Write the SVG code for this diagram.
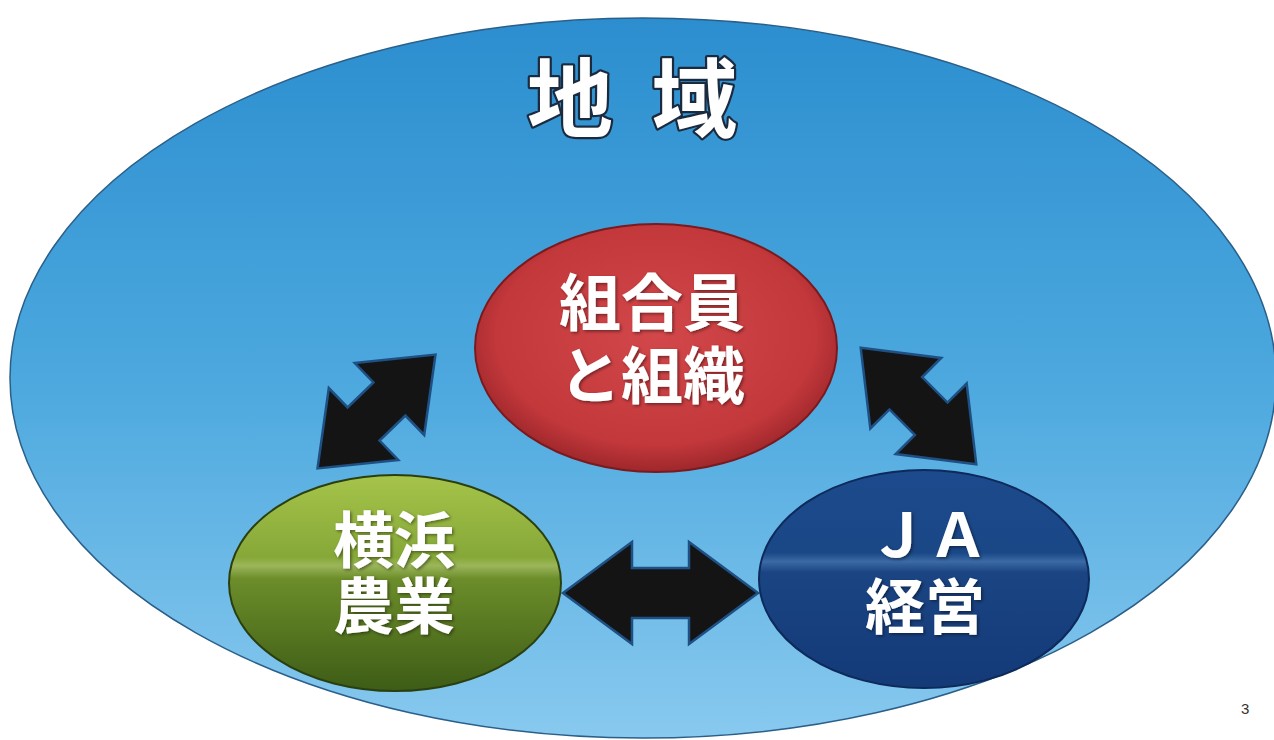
<svg xmlns="http://www.w3.org/2000/svg" width="1274" height="740" viewBox="0 0 1274 740">
  <defs>
    <linearGradient id="gBig" x1="0" y1="0" x2="0" y2="1">
      <stop offset="0" stop-color="#2c8ecf"/>
      <stop offset="0.5" stop-color="#4ca8de"/>
      <stop offset="1" stop-color="#88c9ef"/>
    </linearGradient>
    <radialGradient id="gRed" cx="0.5" cy="0.45" r="0.55">
      <stop offset="0" stop-color="#d2474a"/>
      <stop offset="0.8" stop-color="#c3383b"/>
      <stop offset="1" stop-color="#9e272b"/>
    </radialGradient>
    <linearGradient id="gGreen" x1="0" y1="0" x2="0" y2="1">
      <stop offset="0" stop-color="#a6c44a"/>
      <stop offset="0.38" stop-color="#86a838"/>
      <stop offset="0.42" stop-color="#9bb65a"/>
      <stop offset="0.48" stop-color="#6c8d2a"/>
      <stop offset="1" stop-color="#3d5c16"/>
    </linearGradient>
    <linearGradient id="gBlue" x1="0" y1="0" x2="0" y2="1">
      <stop offset="0" stop-color="#1c4a8c"/>
      <stop offset="0.38" stop-color="#1a4786"/>
      <stop offset="0.42" stop-color="#3b6aa4"/>
      <stop offset="0.47" stop-color="#1a4482"/>
      <stop offset="1" stop-color="#143a78"/>
    </linearGradient>
    <filter id="tshadow" x="-20%" y="-20%" width="140%" height="140%">
      <feDropShadow dx="1.5" dy="1.5" stdDeviation="1.5" flood-color="#000" flood-opacity="0.45"/>
    </filter>
    <path id="dblArrowDiag" d="M -82 0 L -18 -50 L -18 -23 L 18 -23 L 18 -50 L 82 0 L 18 50 L 18 23 L -18 23 L -18 50 Z"/>
  </defs>
  <style>
    .lbl { font-family: "Noto Sans CJK JP", "Noto Sans CJK SC", sans-serif; font-weight: 700; fill: #ffffff; text-anchor: middle; }
    .title { font-family: "Noto Sans CJK JP", "Noto Sans CJK SC", sans-serif; font-weight: 700; font-size: 86px; fill: #ffffff; stroke: #1b2b3f; stroke-width: 4.5; stroke-linejoin: round; paint-order: stroke fill; }
    .arrow { fill: #141414; stroke: #1f5083; stroke-width: 2.5; stroke-linejoin: miter; }
    .page { font-family: "Liberation Sans", Arial, sans-serif; font-size: 15px; fill: #333333; }
  </style>
  <rect x="0" y="0" width="1274" height="740" fill="#ffffff"/>

  <g id="region">
    <ellipse cx="643" cy="378" rx="633" ry="360" fill="url(#gBig)" stroke="#2a5f8a" stroke-width="1.5"/>
    <text class="title" x="527" y="131" letter-spacing="9.5">地 域</text>
  </g>

  <g id="connectors">
    <use href="#dblArrowDiag" class="arrow" transform="translate(376.5 411.5) rotate(-44)"/>
    <use href="#dblArrowDiag" class="arrow" transform="translate(918.5 406) rotate(45.2)"/>
    <path class="arrow" d="M 563 593 L 632 542 L 632 568 L 689 568 L 689 542 L 758 593 L 689 644 L 689 618 L 632 618 L 632 644 Z"/>
  </g>

  <g id="node-members">
    <ellipse cx="656" cy="348" rx="181" ry="124" fill="url(#gRed)" stroke="#7a1a1e" stroke-width="2"/>
    <g filter="url(#tshadow)">
      <text class="lbl" x="652" y="326" font-size="62">組合員</text>
      <text class="lbl" x="652" y="399" font-size="62">と組織</text>
    </g>
  </g>

  <g id="node-agriculture">
    <ellipse cx="395" cy="583" rx="166" ry="108" fill="url(#gGreen)" stroke="#2a3f10" stroke-width="2"/>
    <g filter="url(#tshadow)">
      <text class="lbl" x="394" y="563" font-size="61">横浜</text>
      <text class="lbl" x="394" y="629" font-size="61">農業</text>
    </g>
  </g>

  <g id="node-ja">
    <ellipse cx="924" cy="579" rx="165" ry="109" fill="url(#gBlue)" stroke="#0d2a5a" stroke-width="2"/>
    <g filter="url(#tshadow)">
      <text class="lbl" x="928" y="557" font-size="60">ＪＡ</text>
      <text class="lbl" x="925" y="629" font-size="60">経営</text>
    </g>
  </g>

  <text class="page" x="1241" y="714">3</text>
</svg>
